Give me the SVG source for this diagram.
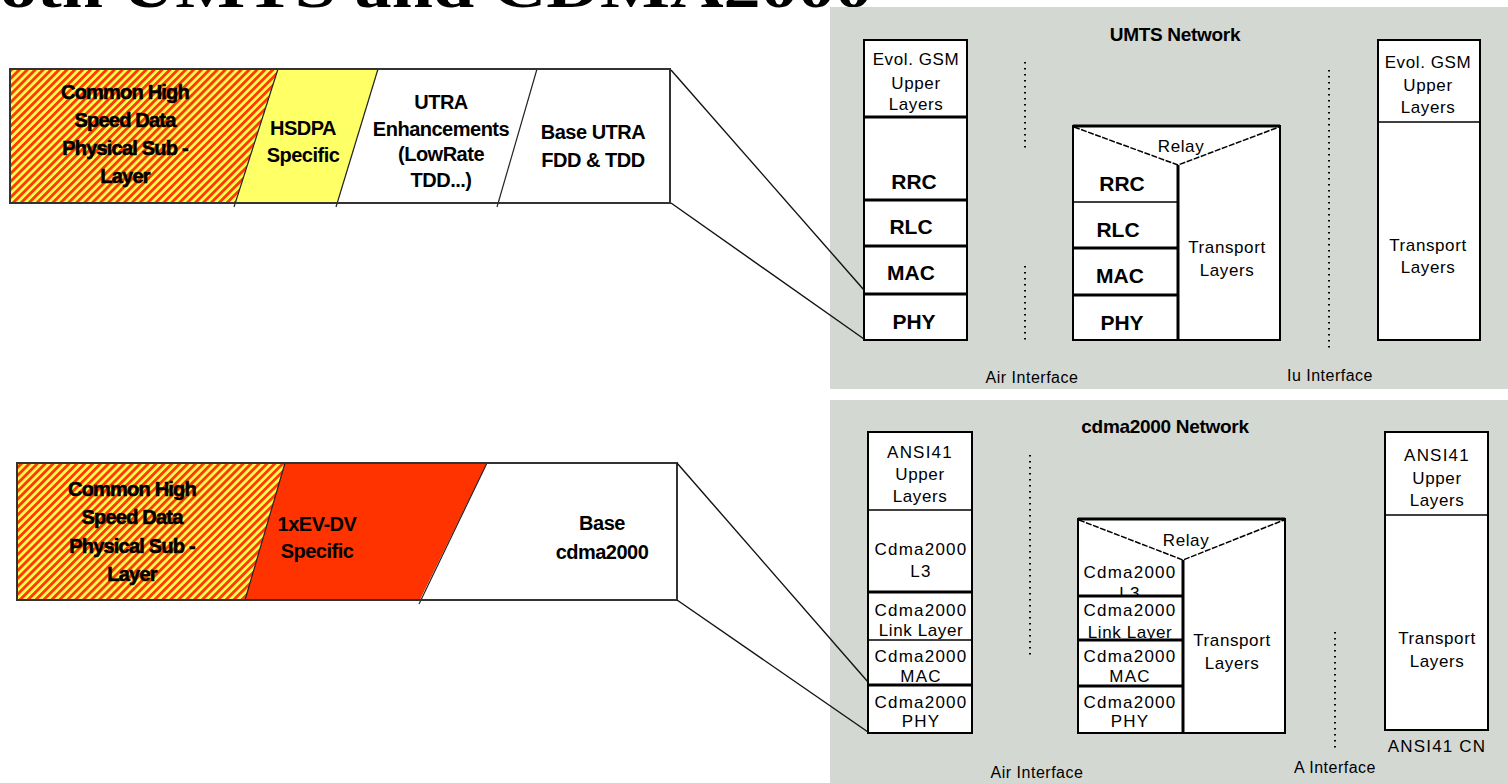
<svg xmlns="http://www.w3.org/2000/svg" width="1508" height="783" viewBox="0 0 1508 783">
<defs>
<pattern id="hatch" patternUnits="userSpaceOnUse" width="5.6" height="5.6" patternTransform="rotate(45)">
<rect x="0" y="0" width="5.6" height="5.6" fill="#ffff55"/>
<rect x="0" y="0" width="2.9" height="5.6" fill="#ff3a00"/>
</pattern>
<style>
.panel{fill:#d4d8d3}
.box{fill:#fff;stroke:#000;stroke-width:2}
.sep{stroke:#000;stroke-width:3}
.thin{stroke:#000;stroke-width:1.5}
.relay{fill:none;stroke:#000;stroke-width:1.5;stroke-dasharray:6 1.5}
.dot{stroke:#000;stroke-width:2;stroke-dasharray:1.5 4.5}
.bar{stroke:#333;stroke-width:2;fill:none}
.div{stroke:#222;stroke-width:1.2}
.conn{stroke:#111;stroke-width:1.4;fill:none}
.bt{font-family:"Liberation Sans",Arial,sans-serif;font-weight:bold;font-size:20px;text-anchor:middle;fill:#000;letter-spacing:-0.5px}
.ht{font-family:"Liberation Sans",Arial,sans-serif;font-weight:bold;font-size:20px;text-anchor:middle;fill:#000;stroke:#000;stroke-width:0.6;letter-spacing:-0.8px}
.lt{font-family:"Liberation Sans",Arial,sans-serif;font-size:17px;text-anchor:middle;fill:#000;letter-spacing:0.6px}
.ct{font-family:"Liberation Sans",Arial,sans-serif;font-size:17px;text-anchor:middle;fill:#000;letter-spacing:1.2px}
.lb{font-family:"Liberation Sans",Arial,sans-serif;font-weight:bold;font-size:21px;text-anchor:middle;fill:#000}
.nt{font-family:"Liberation Sans",Arial,sans-serif;font-weight:bold;font-size:19px;text-anchor:middle;fill:#000;letter-spacing:-0.3px}
.it{font-family:"Liberation Sans",Arial,sans-serif;font-size:16px;text-anchor:middle;fill:#000;letter-spacing:0.5px}
.title{font-family:"Liberation Serif","DejaVu Serif",serif;font-weight:bold;font-size:60px;fill:#000}
</style>
</defs>
<rect width="1508" height="783" fill="#fff"/>

<g id="title">
<text class="title" x="0" y="7" textLength="872" lengthAdjust="spacingAndGlyphs">oth UMTS and CDMA2000</text>
</g>

<!-- panels -->
<g id="umts-panel">
<rect class="panel" x="830" y="7" width="678" height="382"/>
<text class="nt" x="1175" y="41">UMTS Network</text>
<text class="it" x="1032" y="383">Air Interface</text>
<text class="it" x="1330" y="381">Iu Interface</text>
<line class="dot" x1="1025" y1="62" x2="1025" y2="148"/>
<line class="dot" x1="1025" y1="266" x2="1025" y2="340"/>
<line class="dot" x1="1329" y1="70" x2="1329" y2="348"/>
</g>
<g id="cdma-panel">
<rect class="panel" x="830" y="400" width="678" height="383"/>
<text class="nt" x="1165" y="433">cdma2000 Network</text>
<text class="it" x="1037" y="778">Air Interface</text>
<text class="it" x="1335" y="773">A Interface</text>
<line class="dot" x1="1030" y1="455" x2="1030" y2="658"/>
<line class="dot" x1="1335" y1="632" x2="1335" y2="750"/>
</g>

<!-- top bar -->
<g id="umts-bar">
<polygon points="10,69 278,69 235,203 10,203" fill="url(#hatch)"/>
<polygon points="278,69 378,69 337,203 235,203" fill="#ffff66"/>
<polygon points="378,69 670,69 670,203 337,203" fill="#fff"/>
<line class="div" x1="278" y1="69" x2="234" y2="207"/>
<line class="div" x1="378" y1="69" x2="336" y2="207"/>
<line class="div" x1="537" y1="69" x2="497" y2="207"/>
<rect class="bar" x="10" y="69" width="660" height="134"/>
<text class="ht" x="125" y="99">Common High</text>
<text class="ht" x="125" y="127">Speed Data</text>
<text class="ht" x="125" y="155">Physical Sub -</text>
<text class="ht" x="125" y="183">Layer</text>
<text class="bt" x="303" y="135">HSDPA</text>
<text class="bt" x="303" y="162">Specific</text>
<text class="bt" x="441" y="109">UTRA</text>
<text class="bt" x="441" y="136">Enhancements</text>
<text class="bt" x="441" y="161">(LowRate</text>
<text class="bt" x="441" y="187">TDD...)</text>
<text class="bt" x="593" y="139">Base UTRA</text>
<text class="bt" x="593" y="167">FDD &amp; TDD</text>
</g>

<!-- bottom bar -->
<g id="cdma-bar">
<polygon points="17,463 285,463 245,600 17,600" fill="url(#hatch)"/>
<polygon points="285,463 487,463 420,600 245,600" fill="#ff3300"/>
<polygon points="487,463 677,463 677,600 420,600" fill="#fff"/>
<line class="div" x1="285" y1="463" x2="245" y2="600"/>
<line class="div" x1="487" y1="463" x2="419" y2="604"/>
<rect class="bar" x="17" y="463" width="660" height="137"/>
<text class="ht" x="132" y="496">Common High</text>
<text class="ht" x="132" y="524">Speed Data</text>
<text class="ht" x="132" y="553">Physical Sub -</text>
<text class="ht" x="132" y="581">Layer</text>
<text class="bt" x="317" y="531">1xEV-DV</text>
<text class="bt" x="317" y="558">Specific</text>
<text class="bt" x="602" y="530">Base</text>
<text class="bt" x="602" y="559">cdma2000</text>
</g>

<!-- UMTS stacks -->
<g id="umts-ue">
<rect class="box" x="864" y="40" width="103" height="300"/>
<line class="sep" x1="864" y1="117" x2="967" y2="117"/>
<line class="sep" x1="864" y1="200" x2="967" y2="200"/>
<line class="sep" x1="864" y1="246" x2="967" y2="246"/>
<line class="sep" x1="864" y1="294" x2="967" y2="294"/>
<text class="lt" x="916" y="65">Evol. GSM</text>
<text class="lt" x="916" y="89">Upper</text>
<text class="lt" x="916" y="110">Layers</text>
<text class="lb" x="914" y="189">RRC</text>
<text class="lb" x="911" y="234">RLC</text>
<text class="lb" x="911" y="280">MAC</text>
<text class="lb" x="914" y="329">PHY</text>
</g>
<g id="umts-rnc">
<rect class="box" x="1073" y="126" width="207" height="214"/>
<line class="sep" x1="1073" y1="126" x2="1280" y2="126"/>
<polyline class="relay" points="1074,127 1178,165 1279,127"/>
<line class="sep" x1="1178" y1="165" x2="1178" y2="340"/>
<line class="thin" x1="1073" y1="202" x2="1178" y2="202"/>
<line class="sep" x1="1073" y1="248" x2="1178" y2="248"/>
<line class="sep" x1="1073" y1="295" x2="1178" y2="295"/>
<text class="lt" x="1181" y="152">Relay</text>
<text class="lb" x="1122" y="191">RRC</text>
<text class="lb" x="1118" y="237">RLC</text>
<text class="lb" x="1120" y="283">MAC</text>
<text class="lb" x="1122" y="330">PHY</text>
<text class="lt" x="1227" y="253">Transport</text>
<text class="lt" x="1227" y="276">Layers</text>
</g>
<g id="umts-cn">
<rect class="box" x="1378" y="40" width="102" height="300"/>
<line class="thin" x1="1378" y1="122" x2="1480" y2="122"/>
<text class="lt" x="1428" y="68">Evol. GSM</text>
<text class="lt" x="1428" y="91">Upper</text>
<text class="lt" x="1428" y="113">Layers</text>
<text class="lt" x="1428" y="251">Transport</text>
<text class="lt" x="1428" y="273">Layers</text>
</g>

<!-- cdma stacks -->
<g id="cdma-ms">
<rect class="box" x="868" y="432" width="104" height="301"/>
<line class="thin" x1="868" y1="510" x2="972" y2="510"/>
<line class="sep" x1="868" y1="592" x2="972" y2="592"/>
<line class="thin" x1="868" y1="640" x2="972" y2="640"/>
<line class="sep" x1="868" y1="685" x2="972" y2="685"/>
<text class="ct" x="920" y="458">ANSI41</text>
<text class="lt" x="920" y="480">Upper</text>
<text class="lt" x="920" y="502">Layers</text>
<text class="ct" x="921" y="555">Cdma2000</text>
<text class="ct" x="921" y="577">L3</text>
<text class="ct" x="921" y="616">Cdma2000</text>
<text class="lt" x="921" y="636">Link Layer</text>
<text class="ct" x="921" y="662">Cdma2000</text>
<text class="ct" x="921" y="682">MAC</text>
<text class="ct" x="921" y="708">Cdma2000</text>
<text class="ct" x="921" y="727">PHY</text>
</g>
<g id="cdma-bsc">
<rect class="box" x="1078" y="519" width="207" height="214"/>
<text class="ct" x="1130" y="578">Cdma2000</text>
<text class="ct" x="1130" y="599">L3</text>
<rect x="1079" y="596" width="103" height="6" fill="#fff"/>
<line class="sep" x1="1078" y1="519" x2="1285" y2="519"/>
<polyline class="relay" points="1079,520 1183,560 1284,520"/>
<line class="sep" x1="1183" y1="560" x2="1183" y2="733"/>
<line class="sep" x1="1078" y1="596" x2="1183" y2="596"/>
<line class="sep" x1="1078" y1="640" x2="1183" y2="640"/>
<line class="sep" x1="1078" y1="686" x2="1183" y2="686"/>
<text class="lt" x="1186" y="546">Relay</text>
<text class="ct" x="1130" y="616">Cdma2000</text>
<text class="lt" x="1130" y="638">Link Layer</text>
<text class="ct" x="1130" y="662">Cdma2000</text>
<text class="ct" x="1130" y="682">MAC</text>
<text class="ct" x="1130" y="708">Cdma2000</text>
<text class="ct" x="1130" y="727">PHY</text>
<text class="lt" x="1232" y="646">Transport</text>
<text class="lt" x="1232" y="669">Layers</text>
</g>
<g id="cdma-cn">
<rect class="box" x="1385" y="432" width="103" height="298"/>
<line class="thin" x1="1385" y1="515" x2="1488" y2="515"/>
<text class="ct" x="1437" y="461">ANSI41</text>
<text class="lt" x="1437" y="484">Upper</text>
<text class="lt" x="1437" y="506">Layers</text>
<text class="lt" x="1437" y="644">Transport</text>
<text class="lt" x="1437" y="667">Layers</text>
<text class="ct" x="1437" y="752">ANSI41 CN</text>
</g>

<g id="connectors">
<line class="conn" x1="671" y1="70" x2="864" y2="290"/>
<line class="conn" x1="671" y1="203" x2="864" y2="339"/>
<line class="conn" x1="677" y1="463" x2="868" y2="682"/>
<line class="conn" x1="677" y1="600" x2="868" y2="732"/>
</g>
</svg>
